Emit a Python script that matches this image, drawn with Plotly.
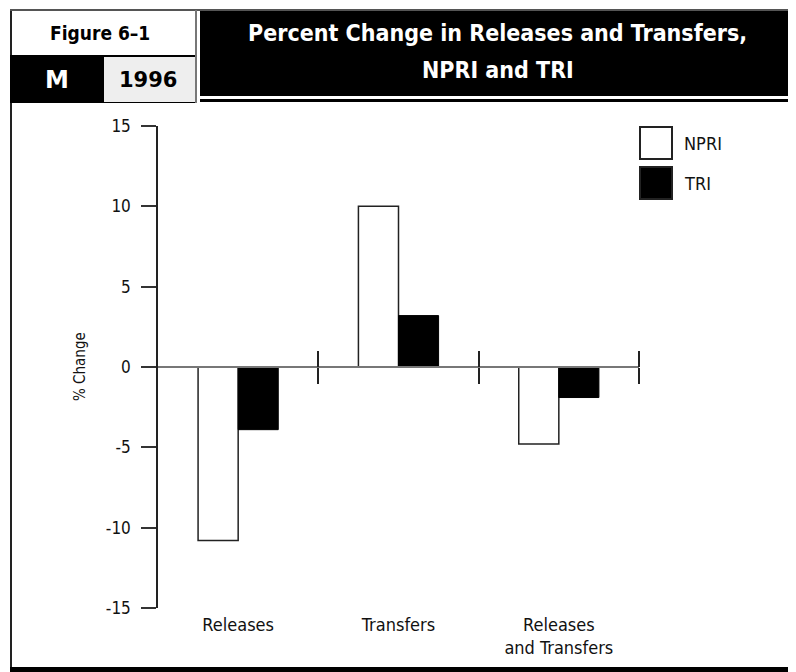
import plotly.graph_objects as go

# ---- data ----
categories = ["Releases", "Transfers", "Releases<br>and Transfers"]
npri_values = [-10.8, 10.0, -4.8]
tri_values = [-3.9, 3.2, -1.9]
series_names = ["NPRI", "TRI"]
y_tick_values = [-15, -10, -5, 0, 5, 10, 15]
y_tick_labels = ["-15", "-10", "-5", "0", "5", "10", "15"]
title_lines = ["Percent Change in Releases and Transfers,", "NPRI and TRI"]

W, H = 796, 672
PAGE_OFFSET = 8  # default page margin around the figure
FONT = "DejaVu Sans Condensed, Liberation Sans Narrow, Arial Narrow, sans-serif"


def fx(px):
    return (px - PAGE_OFFSET) / W


def fy(py):
    return 1 - (py - PAGE_OFFSET) / H


fig = go.Figure()
fig.add_trace(go.Bar(x=categories, y=npri_values, name=series_names[0],
                     marker=dict(color="white", line=dict(color="#222", width=1.5)),
                     showlegend=False))
fig.add_trace(go.Bar(x=categories, y=tri_values, name=series_names[1],
                     marker=dict(color="black", line=dict(color="black", width=1)),
                     showlegend=False))
# empty helper traces so the zero-line axes with category separators are drawn
fig.add_trace(go.Scatter(x=[], y=[], xaxis="x2", yaxis="y", showlegend=False))
fig.add_trace(go.Scatter(x=[], y=[], xaxis="x3", yaxis="y", showlegend=False))

ydom = [fy(608), fy(126)]
ymid = (ydom[0] + ydom[1]) / 2
n = len(categories)
boundaries = [i + 0.5 for i in range(n)]

fig.update_layout(
    width=W, height=H, autosize=False,
    margin=dict(l=0, r=0, t=0, b=0, pad=0),
    paper_bgcolor="white", plot_bgcolor="white",
    barmode="group", bargap=0.5, bargroupgap=0,
    font=dict(family=FONT, color="#111"),
    xaxis=dict(domain=[fx(158), fx(639)], type="category", automargin=False,
               showline=False, ticks="", showgrid=False, zeroline=False,
               tickfont=dict(size=18, family=FONT, color="#111"),
               ticklabelstandoff=4),
    xaxis2=dict(overlaying="x", anchor="free", position=ymid, side="bottom",
                automargin=False,
                range=[-0.5, n - 0.5], showgrid=False, zeroline=False,
                showline=True, linecolor="#777", linewidth=2,
                tickvals=boundaries, ticks="outside", ticklen=16, tickwidth=1.5,
                tickcolor="#222", showticklabels=False),
    xaxis3=dict(overlaying="x", anchor="free", position=ymid, side="top",
                automargin=False,
                range=[-0.5, n - 0.5], showgrid=False, zeroline=False,
                showline=False,
                tickvals=boundaries, ticks="outside", ticklen=16, tickwidth=1.5,
                tickcolor="#222", showticklabels=False),
    yaxis=dict(domain=ydom, range=[-15, 15], tickvals=y_tick_values,
               ticktext=y_tick_labels, ticks="outside", ticklen=15, automargin=False,
               tickwidth=1.5, tickcolor="#333", showline=True, linecolor="#222",
               linewidth=1.5, showgrid=False, zeroline=False,
               tickfont=dict(size=17, family=FONT, color="#111"),
               ticklabelstandoff=7),
)

shapes = []
# outer frame
shapes.append(dict(type="line", xref="paper", yref="paper", x0=fx(11), x1=fx(11),
                   y0=fy(10), y1=fy(672), line=dict(color="#222", width=2)))
shapes.append(dict(type="line", xref="paper", yref="paper", x0=fx(10), x1=fx(804),
                   y0=fy(10), y1=fy(10), line=dict(color="#555", width=2)))
# figure label box
shapes.append(dict(type="rect", xref="paper", yref="paper", x0=fx(12), x1=fx(195),
                   y0=fy(11), y1=fy(55), fillcolor="white", line=dict(width=0)))
shapes.append(dict(type="rect", xref="paper", yref="paper", x0=fx(10), x1=fx(196),
                   y0=fy(55), y1=fy(103), fillcolor="black", line=dict(width=0)))
shapes.append(dict(type="rect", xref="paper", yref="paper", x0=fx(104), x1=fx(195),
                   y0=fy(57), y1=fy(102), fillcolor="#eeeeee", line=dict(width=0)))
shapes.append(dict(type="line", xref="paper", yref="paper", x0=fx(196), x1=fx(196),
                   y0=fy(10), y1=fy(103), line=dict(color="#777", width=2)))
# title box
shapes.append(dict(type="rect", xref="paper", yref="paper", x0=fx(200), x1=fx(804),
                   y0=fy(11), y1=fy(96), fillcolor="black", line=dict(width=0)))
shapes.append(dict(type="rect", xref="paper", yref="paper", x0=fx(200), x1=fx(804),
                   y0=fy(99), y1=fy(102), fillcolor="black", line=dict(width=0)))
# bottom bar
shapes.append(dict(type="rect", xref="paper", yref="paper", x0=fx(10), x1=fx(804),
                   y0=fy(667), y1=fy(680), fillcolor="black", line=dict(width=0)))
# legend swatches
shapes.append(dict(type="rect", xref="paper", yref="paper", x0=fx(640), x1=fx(672),
                   y0=fy(127), y1=fy(159), fillcolor="white",
                   line=dict(color="#222", width=2)))
shapes.append(dict(type="rect", xref="paper", yref="paper", x0=fx(640), x1=fx(672),
                   y0=fy(167), y1=fy(199), fillcolor="black",
                   line=dict(color="#222", width=2)))
fig.update_layout(shapes=shapes)

annotations = [
    dict(text="<b>Figure 6–1</b>", x=fx(100), y=fy(33), xref="paper", yref="paper",
         showarrow=False, xanchor="center", yanchor="middle",
         font=dict(family=FONT, size=19, color="black")),
    dict(text="<b>M</b>", x=fx(57), y=fy(80), xref="paper", yref="paper",
         showarrow=False, xanchor="center", yanchor="middle",
         font=dict(family="DejaVu Sans", size=24, color="white")),
    dict(text="<b>1996</b>", x=fx(148), y=fy(80), xref="paper", yref="paper",
         showarrow=False, xanchor="center", yanchor="middle",
         font=dict(family="DejaVu Sans", size=21, color="black")),
    dict(text="<b>" + title_lines[0] + "</b>",
         x=fx(498), y=fy(33), xref="paper", yref="paper",
         showarrow=False, xanchor="center", yanchor="middle",
         font=dict(family=FONT, size=23, color="white")),
    dict(text="<b>" + title_lines[1] + "</b>",
         x=fx(498), y=fy(70), xref="paper", yref="paper",
         showarrow=False, xanchor="center", yanchor="middle",
         font=dict(family=FONT, size=23, color="white")),
    dict(text="% Change", x=fx(80), y=ymid, xref="paper", yref="paper",
         showarrow=False, textangle=-90, xanchor="center", yanchor="middle",
         font=dict(family=FONT, size=15, color="#111")),
    dict(text=series_names[0], x=fx(682), y=fy(143), xref="paper", yref="paper",
         showarrow=False, xanchor="left", yanchor="middle",
         font=dict(family=FONT, size=18, color="#111")),
    dict(text=series_names[1], x=fx(682), y=fy(183), xref="paper", yref="paper",
         showarrow=False, xanchor="left", yanchor="middle",
         font=dict(family=FONT, size=18, color="#111")),
]
fig.update_layout(annotations=annotations)

fig.write_html("out.html")
